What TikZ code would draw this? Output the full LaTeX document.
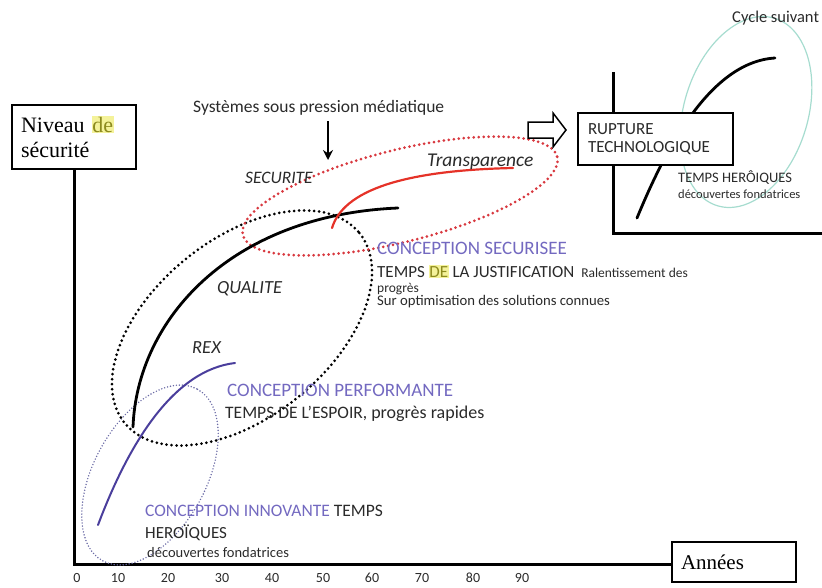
\documentclass[tikz,border=0pt]{standalone}
\usepackage{fontspec}
\setmainfont{Carlito}
\newfontfamily\serifaxe{Liberation Serif}
\usetikzlibrary{positioning, arrows.meta, calc}

\definecolor{violetconc}{HTML}{7369C0}
\definecolor{bleucourbe}{HTML}{4A3E9C}
\definecolor{bleupoint}{HTML}{6B6BA6}
\definecolor{rougecourbe}{HTML}{E53228}
\definecolor{rougepoint}{HTML}{D8383F}
\definecolor{vertcycle}{HTML}{A6DCCF}
\definecolor{surligne}{HTML}{F4F29A}
\definecolor{olivetexte}{HTML}{8C8A1E}
\definecolor{gristexte}{HTML}{2A2A2A}

\newcommand{\taille}[1]{\fontsize{#1}{#1}\selectfont}
\newcommand{\surligner}[1]{{\setlength{\fboxsep}{0.6pt}\colorbox{surligne}{\color{olivetexte}#1}}}

\tikzset{
  axe/.style={line width=3pt},
  boite/.style={draw, line width=1.6pt, fill=white, inner sep=0pt},
  courbe/.style={line width=2.8pt, line cap=round},
  pointille/.style={line width=3pt, line cap=round, dash pattern=on 0pt off 5pt},
  texte/.style={anchor=base west, inner sep=0pt, text=gristexte},
  fleche/.style={-{Stealth[length=10pt,width=10pt]}, line width=2.2pt},
}

\begin{document}
\begin{tikzpicture}[x=1pt, y=-1pt]
    \useasboundingbox (0,0) rectangle (822,587);

    % Parametres des axes (en pixels de l'image)
    \def\xAxe{74}      % axe vertical principal
    \def\yAxe{564}     % axe horizontal principal
    \def\xAxeDeux{613} % axe vertical du cycle suivant
    \def\yAxeDeux{233} % axe horizontal du cycle suivant

    % --- Axes principaux ---
    \node[boite, minimum width=124pt, minimum height=64pt, text width=106pt, align=left,
          font=\serifaxe\fontsize{22}{25}\selectfont] (niveau) at (\xAxe,137)
          {Niveau \surligner{de}\\sécurité};
    \node[boite, minimum width=124pt, minimum height=40pt, text width=106pt, align=left,
          font=\serifaxe\taille{21}] (annees) at (734,562) {Années};
    \coordinate (origine) at (\xAxe,\yAxe);
    \draw[axe] (niveau.south) -- (origine) -- (annees.west |- origine);

    % graduations
    \foreach \annee/\xpos in {0/77,10/118,20/168,30/222,40/272,50/323,60/372,70/422,80/473,90/522}
        \node[anchor=base, inner sep=0pt, font=\taille{14}, text=gristexte] (t\annee) at (\xpos,582) {\annee};

    % --- Ellipses pointillees ---
    \draw[pointille, bleupoint, line width=1.6pt, dash pattern=on 0pt off 3pt,
          rotate around={61:(150,475)}] (150,475) ellipse (98 and 56);
    \draw[pointille, rotate around={39:(242,328)}] (242,328) ellipse (151 and 89);
    \draw[pointille, rougepoint, rotate around={14:(400,196)}] (400,196) ellipse (162 and 46);

    % --- Courbes en S ---
    \draw[courbe, bleucourbe, line width=2pt] (98,525) .. controls (130,440) and (175,370) .. (235,363);
    \draw[courbe] (133,427) .. controls (137,320) and (230,215) .. (398,208);
    \draw[courbe, rougecourbe, line width=2.2pt] (332,228) .. controls (345,185) and (420,170) .. (513,168);

    % --- Pression mediatique ---
    \node[texte, font=\taille{17.5}] (pression) at (193,112) {Systèmes sous pression médiatique};
    \coordinate (pointe) at (328,160);
    \draw[fleche] ($(pointe |- pression.south)+(0,6)$) -- (pointe);

    % --- Etiquettes des courbes ---
    \node[texte, font=\itshape\taille{17.5}] (securite) at (245,183) {SECURITE};
    \node[texte, font=\itshape\taille{19.5}] (transparence) at (427,166) {Transparence};
    \node[texte, font=\itshape\taille{18.5}] (qualite) at (217,293) {QUALITE};
    \node[texte, font=\itshape\taille{18.5}] (rex) at (192,353) {REX};

    % --- Phases de conception ---
    \node[texte, font=\taille{19}, text=violetconc] (securisee) at (377,254) {CONCEPTION SECURISEE};
    \node[texte, font=\taille{17}] (justification) at (377,277)
          {TEMPS \surligner{DE} LA JUSTIFICATION {\taille{13.5} Ralentissement des}};
    \node[texte, font=\taille{13.5}] (progres) at (377,292) {progrès};
    \node[texte, font=\taille{14.7}] (optimisation) at (377,305) {Sur optimisation des solutions connues};

    \node[texte, font=\taille{19}, text=violetconc] (performante) at (227,396) {CONCEPTION PERFORMANTE};
    \node[texte, font=\taille{17.5}] (espoir) at (225,418) {TEMPS DE L'ESPOIR, {\taille{18}progrès rapides}};

    \node[texte, font=\taille{17.5}] (innovante) at (145,516) {\textcolor{violetconc}{CONCEPTION INNOVANTE} TEMPS};
    \node[texte, font=\taille{17}] (heroiques) at (145,538) {HEROÏQUES};
    \node[texte, font=\taille{14.5}] (decouvertes) at (147,557) {découvertes fondatrices};

    % --- Rupture et cycle suivant ---
    \draw[line width=1.5pt, fill=white] (528,122) -- (553,122) -- (553,113) -- (566,130)
        -- (553,147) -- (553,138) -- (528,138) -- cycle;

    \coordinate (origine2) at (\xAxeDeux,\yAxeDeux);
    \draw[axe] (\xAxeDeux,72) -- (origine2) -- (822,\yAxeDeux);
    \draw[vertcycle, line width=1.2pt, rotate around={73:(746,112)}] (746,112) ellipse (98 and 62);
    \draw[courbe] (637,218) .. controls (665,150) and (710,62) .. (775,58);

    \node[boite, minimum width=155pt, minimum height=52pt, text width=135pt, align=left,
          font=\fontsize{17}{18.5}\selectfont, text=gristexte] (rupture) at (655.5,139)
          {RUPTURE\\TECHNOLOGIQUE};
    \node[texte, font=\taille{16.5}] (cycle) at (732,22) {Cycle suivant};
    \node[texte, font=\taille{14.5}] (heroiques2) at (678,182) {TEMPS HERÔIQUES};
    \node[texte, font=\taille{12.5}] (decouvertes2) at (678,198) {découvertes fondatrices};

\end{tikzpicture}
\end{document}
